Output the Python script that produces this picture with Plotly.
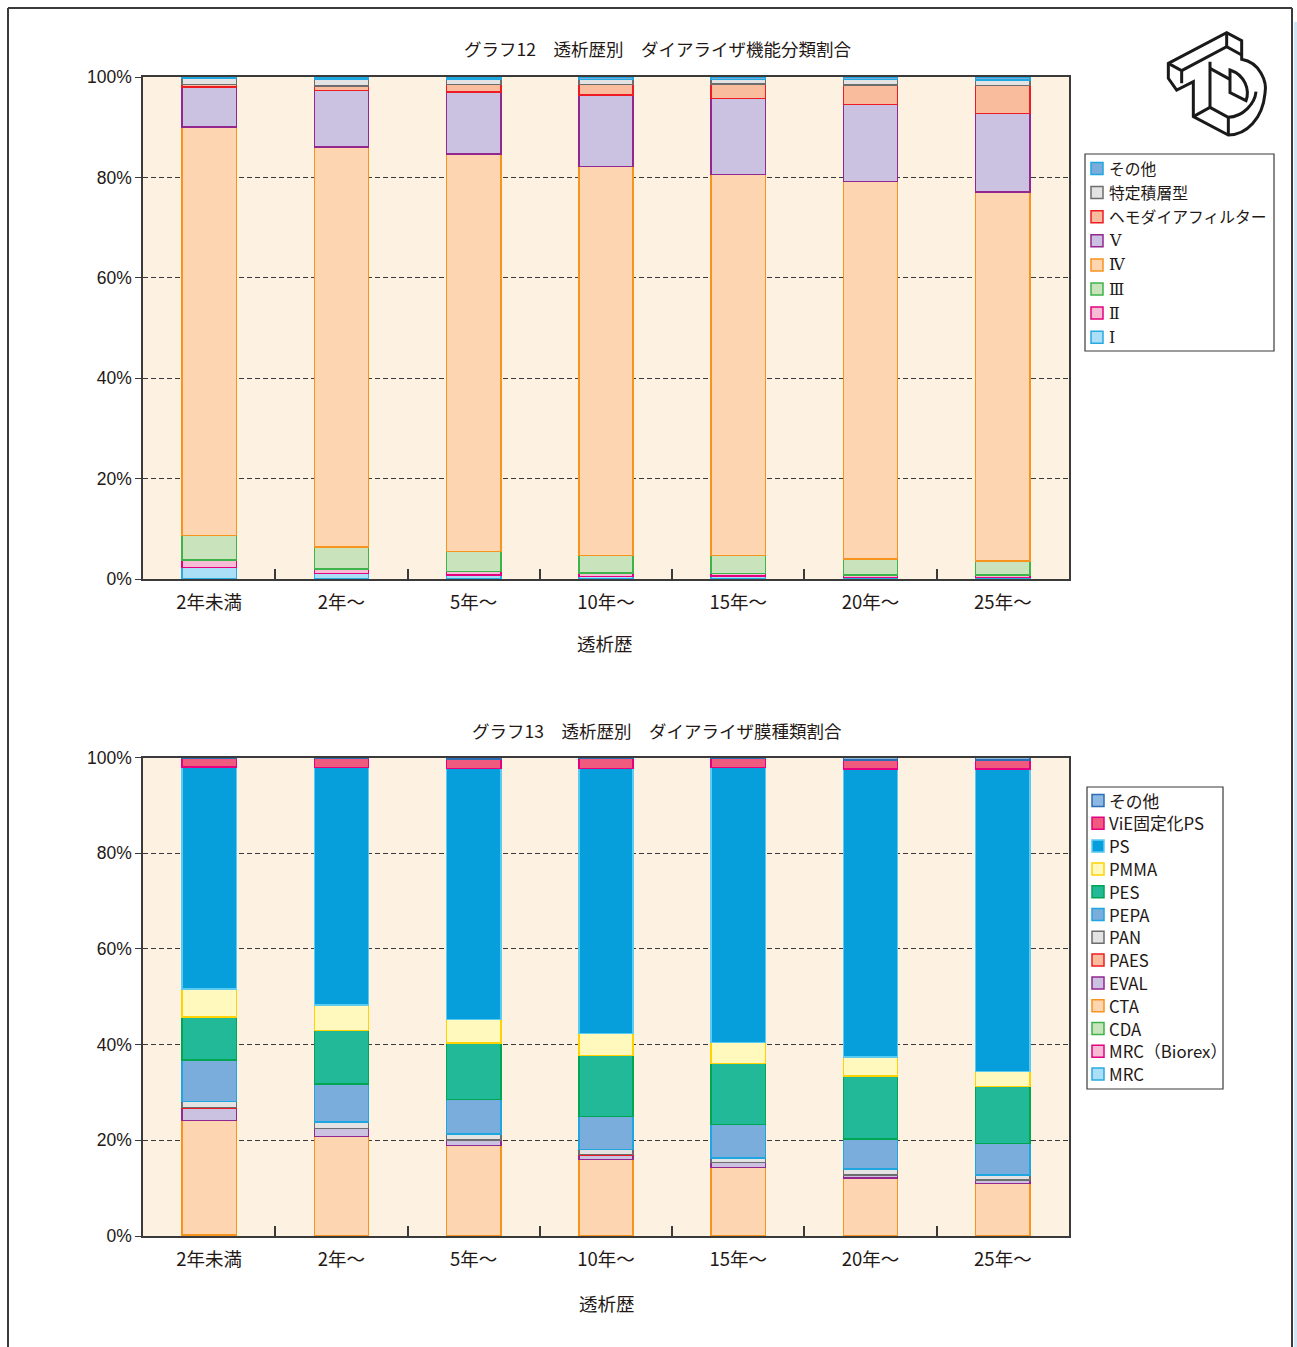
import plotly.graph_objects as go

W, H = 1297, 1347

categories = ["2年未満", "2年～", "5年～", "10年～", "15年～", "20年～", "25年～"]

# グラフ12 ダイアライザ機能分類 (%)
func_I = [2.3, 1.1, 0.8, 0.5, 0.6, 0.3, 0.3]
func_II = [1.5, 0.9, 0.7, 0.7, 0.5, 0.5, 0.5]
func_III = [4.9, 4.4, 4.0, 3.5, 3.6, 3.2, 2.8]
func_IV = [81.3, 79.7, 79.2, 77.5, 75.8, 75.2, 73.4]
func_V = [8.0, 11.2, 12.4, 14.2, 15.1, 15.3, 15.6]
func_hemo = [0.5, 0.9, 1.5, 2.1, 2.9, 3.9, 5.6]
func_tokutei = [1.2, 1.4, 1.1, 1.0, 0.9, 1.1, 1.1]
func_other = [0.3, 0.4, 0.4, 0.5, 0.5, 0.5, 0.6]

# グラフ13 ダイアライザ膜種類 (%)
mem_MRC = [0.1, 0.05, 0.05, 0.05, 0.05, 0.05, 0.05]
mem_MRC_biorex = [0.05, 0.05, 0.05, 0.05, 0.05, 0.05, 0.05]
mem_CDA = [0.05, 0.05, 0.05, 0.05, 0.05, 0.05, 0.05]
mem_CTA = [24.0, 20.7, 18.8, 15.9, 14.2, 12.0, 10.8]
mem_EVAL = [2.6, 1.6, 1.1, 0.9, 1.0, 0.6, 0.7]
mem_PAES = [0.05, 0.05, 0.05, 0.05, 0.05, 0.05, 0.05]
mem_PAN = [1.25, 1.3, 1.25, 1.05, 0.9, 1.2, 1.05]
mem_PEPA = [8.7, 8.0, 7.2, 7.0, 7.0, 6.35, 6.55]
mem_PES = [9.0, 11.2, 11.85, 12.7, 12.8, 13.1, 12.0]
mem_PMMA = [5.9, 5.3, 4.9, 4.6, 4.45, 4.05, 3.1]
mem_PS = [46.5, 49.7, 52.5, 55.4, 57.55, 60.2, 63.3]
mem_ViE = [1.75, 1.9, 2.0, 2.1, 1.9, 1.95, 1.9]
mem_other = [0.2, 0.2, 0.3, 0.25, 0.15, 0.5, 0.5]

y_ticks = [0, 20, 40, 60, 80, 100]
y_ticktext = ["0%", "20%", "40%", "60%", "80%", "100%"]

JP = "Noto Sans CJK JP"
TXT = "#231815"
ROMAN = "DejaVu Serif, Liberation Serif, " + JP

top_series = [
    ("Ⅰ", func_I, "#aadff7", "#29abe2"),
    ("Ⅱ", func_II, "#f6bcd5", "#e4007f"),
    ("Ⅲ", func_III, "#c9e3bd", "#3cb449"),
    ("Ⅳ", func_IV, "#fdd5b0", "#f7941d"),
    ("Ⅴ", func_V, "#cbc1e0", "#92278f"),
    ("ヘモダイアフィルター", func_hemo, "#f9bd9e", "#ed1c24"),
    ("特定積層型", func_tokutei, "#e3e3e3", "#6d6d6d"),
    ("その他", func_other, "#7aacdc", "#1ea6e0"),
]

bot_series = [
    ("MRC", mem_MRC, "#aadff7", "#29abe2"),
    ("MRC（Biorex）", mem_MRC_biorex, "#f6bcd5", "#e4007f"),
    ("CDA", mem_CDA, "#c9e3bd", "#3cb449"),
    ("CTA", mem_CTA, "#fdd5b0", "#f7941d"),
    ("EVAL", mem_EVAL, "#cbc1e0", "#92278f"),
    ("PAES", mem_PAES, "#f9bd9e", "#ed1c24"),
    ("PAN", mem_PAN, "#e3e3e3", "#6d6d6d"),
    ("PEPA", mem_PEPA, "#7aacdc", "#1ea6e0"),
    ("PES", mem_PES, "#22b998", "#00a651"),
    ("PMMA", mem_PMMA, "#fff9be", "#ffd200"),
    ("PS", mem_PS, "#079fdb", "#5ccbf2"),
    ("ViE固定化PS", mem_ViE, "#f05a7e", "#e4007f"),
    ("その他", mem_other, "#8cb8e2", "#2c6db3"),
]

fig = go.Figure()
for name, vals, fill, line in top_series:
    fig.add_trace(go.Bar(x=categories, y=vals, name=name, xaxis="x", yaxis="y",
                         marker=dict(color=fill, line=dict(color=line, width=1.5))))
for name, vals, fill, line in bot_series:
    fig.add_trace(go.Bar(x=categories, y=vals, name=name, xaxis="x2", yaxis="y2",
                         marker=dict(color=fill, line=dict(color=line, width=1.5))))


def px(x):
    return x / W


def py(y):
    return 1 - y / H


xdom = [px(143), px(1069)]
xaxis_common = dict(type="category", tickson="boundaries", ticks="inside", ticklen=10,
                    tickcolor="#3a3a3a", tickwidth=1.5, showline=True, mirror=True,
                    linecolor="#3a3a3a", linewidth=1.5, showgrid=False,
                    tickfont=dict(family=JP, size=18.5, color=TXT), domain=xdom,
                    ticklabelstandoff=6)
yaxis_common = dict(range=[0, 100], tickvals=y_ticks, ticktext=y_ticktext,
                    ticks="outside", ticklen=6, tickcolor="#3a3a3a", showline=True,
                    mirror=True, linecolor="#3a3a3a", linewidth=1.5, showgrid=True,
                    gridcolor="#3a3a3a", gridwidth=1, griddash="5px,3px", zeroline=False,
                    tickfont=dict(family="Liberation Sans, " + JP, size=17.5, color=TXT))

fig.update_layout(
    width=W, height=H, margin=dict(l=0, r=0, t=0, b=0, autoexpand=False),
    paper_bgcolor="white", plot_bgcolor="#fdf1e1",
    barmode="stack", barnorm="percent", bargap=0.59,
    showlegend=False,
    xaxis=dict(anchor="y", **xaxis_common),
    yaxis=dict(anchor="x", domain=[py(579), py(77)], **yaxis_common),
    xaxis2=dict(anchor="y2", **xaxis_common),
    yaxis2=dict(anchor="x2", domain=[py(1236), py(757.5)], **yaxis_common),
    hovermode=False,
)

annotations = [
    dict(text="グラフ12　透析歴別　ダイアライザ機能分類割合", x=px(657), y=py(48), size=17.5),
    dict(text="グラフ13　透析歴別　ダイアライザ膜種類割合", x=px(657), y=py(730), size=17.5),
    dict(text="透析歴", x=px(605), y=py(643), size=18.5),
    dict(text="透析歴", x=px(607), y=py(1303), size=18.5),
]
for a in annotations:
    size = a.pop("size")
    fig.add_annotation(xref="paper", yref="paper", showarrow=False,
                       xanchor="center", yanchor="middle",
                       font=dict(family=JP, size=size, color=TXT), **a)


# manual legends (boxes, swatches, labels)
def draw_legend(series, box, first_y, step, sw_x, text_x, fsize):
    x0, y0, x1, y1 = box
    fig.add_shape(type="rect", xref="paper", yref="paper",
                  x0=px(x0), x1=px(x1), y0=py(y1), y1=py(y0),
                  line=dict(color="#3a3a3a", width=1.2), fillcolor="white")
    for i, (name, _vals, fill, line) in enumerate(reversed(series)):
        yc = first_y + i * step
        fig.add_shape(type="rect", xref="paper", yref="paper",
                      x0=px(sw_x), x1=px(sw_x + 12), y0=py(yc + 6), y1=py(yc - 6),
                      line=dict(color=line, width=1.5), fillcolor=fill)
        fam = ROMAN if name in ("Ⅰ", "Ⅱ", "Ⅲ", "Ⅳ", "Ⅴ") else JP
        fig.add_annotation(xref="paper", yref="paper", showarrow=False,
                           x=px(text_x), y=py(yc), xanchor="left", yanchor="middle",
                           text=name, font=dict(family=fam, size=fsize, color=TXT))


draw_legend(top_series, (1085, 154, 1274, 351), 168.5, 24.1, 1091, 1107, 15.8)
draw_legend(bot_series, (1087, 787, 1223, 1089), 800.5, 22.8, 1092, 1107, 16.8)

# page frame
frame = "#3a3a3a"
fig.add_shape(type="line", xref="paper", yref="paper", x0=px(8), x1=px(1292), y0=py(8), y1=py(8),
              line=dict(color=frame, width=2))
fig.add_shape(type="line", xref="paper", yref="paper", x0=px(8), x1=px(8), y0=py(8), y1=0,
              line=dict(color=frame, width=2))
fig.add_shape(type="line", xref="paper", yref="paper", x0=px(1292), x1=px(1292), y0=py(8), y1=0,
              line=dict(color=frame, width=2))
fig.add_shape(type="line", xref="paper", yref="paper", x0=px(1295.5), x1=px(1295.5), y0=py(22), y1=0,
              line=dict(color="#cfe6f5", width=3))


# decorative TD logo (outline sketch)
def logo_path(cmds):
    out = []
    for c in cmds:
        if isinstance(c, str):
            out.append(c)
        else:
            zx, zy = c
            X = 1150 + zx / 3
            Y = 20 + zy / 3
            out.append(f"{px(X):.5f},{py(Y):.5f}")
    return " ".join(out)


logo_parts = [
    ["M", (55, 130), "L", (230, 38), "L", (275, 62), "L", (275, 118),
     "C", (330, 128), (352, 185), (345, 220),
     "C", (338, 295), (290, 345), (235, 345),
     "L", (130, 290), "L", (130, 185), "L", (80, 210), "L", (55, 175), "Z"],
    ["M", (55, 130), "L", (95, 152), "L", (95, 190)],
    ["M", (95, 152), "L", (230, 80), "L", (275, 105)],
    ["M", (230, 38), "L", (230, 80)],
    ["M", (180, 125), "L", (180, 262), "L", (130, 290)],
    ["M", (180, 262), "L", (235, 292), "L", (235, 345)],
    ["M", (235, 292), "C", (280, 290), (315, 250), (318, 215)],
    ["M", (180, 145), "L", (240, 178)],
    ["M", (240, 150), "C", (285, 165), (300, 210), (288, 242), "L", (240, 218), "Z"],
]
for part in logo_parts:
    fig.add_shape(type="path", xref="paper", yref="paper", path=logo_path(part),
                  line=dict(color="#1a1a1a", width=3), fillcolor="rgba(0,0,0,0)")

fig.write_html("out.html")
